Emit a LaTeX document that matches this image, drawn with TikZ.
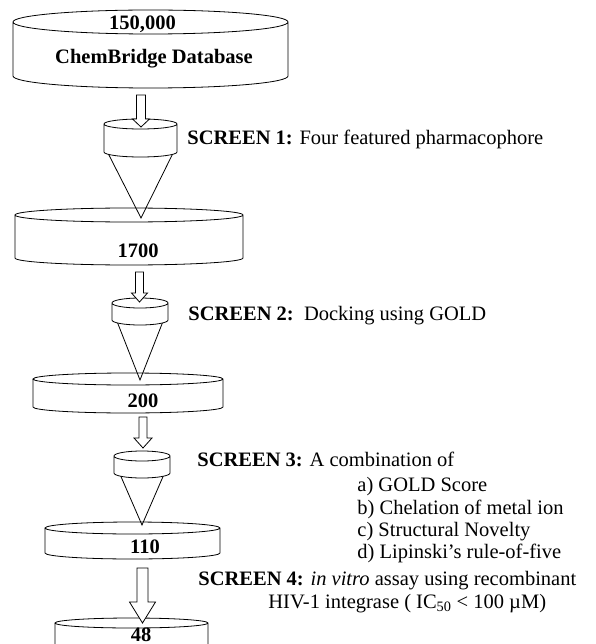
\documentclass[tikz,border=0pt]{standalone}
\usepackage{fontspec}
\setmainfont{Liberation Serif}
\usetikzlibrary{calc}

\begin{document}
\begin{tikzpicture}[
    x=1pt, y=-1pt,
    line width=0.8pt,
    can/.style={
        rectangle,
        inner sep=0pt,
        outer sep=0pt,
        append after command={
            \pgfextra{
                \draw[fill=white]
                    let \p1=(\tikzlastnode.north west), \p2=(\tikzlastnode.south east),
                        \n1={(\x2-\x1)/2} in
                    (\x1,\y1-#1pt) -- (\x1,\y2+#1pt)
                    arc[start angle=180, end angle=360, x radius=\n1, y radius=#1pt]
                    -- (\x2,\y1-#1pt)
                    arc[start angle=0, end angle=180, x radius=\n1, y radius=#1pt]
                    arc[start angle=180, end angle=360, x radius=\n1, y radius=#1pt];
            }
        }
    },
    count/.style={
        anchor=base,
        inner sep=0pt,
        font=\fontsize{20.5}{24}\selectfont\bfseries
    },
    screen/.style={
        anchor=base west,
        inner sep=0pt,
        font=\fontsize{20.5}{24}\selectfont
    },
    hollow/.style={draw, fill=white, line join=miter}
]
\useasboundingbox (0,0) rectangle (595,644);
\clip (0,0) rectangle (595,644);

% compound sets
\node[can=12, minimum width=275, minimum height=78] (db0) at (150.5,49) {};
\node[can=7, minimum width=228, minimum height=57] (db1) at (129,236.5) {};
\node[can=6, minimum width=190, minimum height=40] (db2) at (128,393) {};
\node[can=6, minimum width=175, minimum height=37] (db3) at (132.5,540.5) {};
\node[can=5, minimum width=153, minimum height=54] (db4) at (131.5,645) {};

\node[count] (n0) at (142.5,30) {150,000};
\node[count] (n0b) at (154,64) {ChemBridge Database};
\node[count] (n1) at (138,257) {1700};
\node[count] (n2) at (143,407) {200};
\node[count] (n3) at (145,553) {110};
\node[count] (n4) at (141,641) {48};

% funnel tips
\coordinate (tip1) at (141,218);
\coordinate (tip2) at (140,380);
\coordinate (tip3) at (142,525);

% cones first, the filter cans on top
\node (f1) [minimum width=73, minimum height=38, inner sep=0pt] at (140.5,138) {};
\node (f2) [minimum width=56, minimum height=27, inner sep=0pt] at (140,311.5) {};
\node (f3) [minimum width=56, minimum height=27, inner sep=0pt] at (142,464.5) {};

\draw ($(f1.south west)+(4,-5)$) -- (tip1) -- ($(f1.south east)+(-4,-5)$);
\draw ($(f2.south west)+(5,-5)$) -- (tip2) -- ($(f2.south east)+(-5,-5)$);
\draw ($(f3.south west)+(6,-5)$) -- (tip3) -- ($(f3.south east)+(-6,-5)$);

\node[can=5, minimum width=73, minimum height=38] (c1) at (f1) {};
\node[can=5, minimum width=56, minimum height=27] (c2) at (f2) {};
\node[can=5, minimum width=56, minimum height=27] (c3) at (f3) {};

% hollow arrows
\coordinate (a1) at (141,127);
\coordinate (a2) at (139.5,302);
\coordinate (a3) at (143,448);
\coordinate (a4) at (142.5,623);

\draw[hollow] (a1) -- ++(-8.5,-8) -- ++(4,0) -- ++(0,-24) -- ++(9,0) -- ++(0,24) -- ++(4,0) -- cycle;
\draw[hollow] (a2) -- ++(-8,-9) -- ++(4,0) -- ++(0,-21) -- ++(8,0) -- ++(0,21) -- ++(4,0) -- cycle;
\draw[hollow] (a3) -- ++(-9,-10) -- ++(5,0) -- ++(0,-21) -- ++(8,0) -- ++(0,21) -- ++(5,0) -- cycle;
\draw[hollow] (a4) -- ++(-13,-21) -- ++(7.5,0) -- ++(0,-34) -- ++(11,0) -- ++(0,34) -- ++(7.5,0) -- cycle;

% screening steps
\node[screen] (s1) at (187,145) {\textbf{SCREEN 1:} Four featured pharmacophore};
\node[screen] (s2) at (188,320) {\textbf{SCREEN 2:}\ \ Docking using GOLD};
\node[screen] (s3) at (197,466) {\textbf{SCREEN 3:} A combination of};
\node[screen] (s3a) at (357,491) {a) GOLD Score};
\node[screen] (s3b) at (357,514) {b) Chelation of metal ion};
\node[screen] (s3c) at (357,536) {c) Structural Novelty};
\node[screen] (s3d) at (357,558) {d) Lipinski’s rule-of-five};
\node[screen] (s4) at (198,585) {\textbf{SCREEN 4:} \textit{in vitro} assay using recombinant};
\node[screen] (s4b) at (268,608) {HIV-1 integrase ( IC\textsubscript{50} < 100 µM)};
\end{tikzpicture}
\end{document}
